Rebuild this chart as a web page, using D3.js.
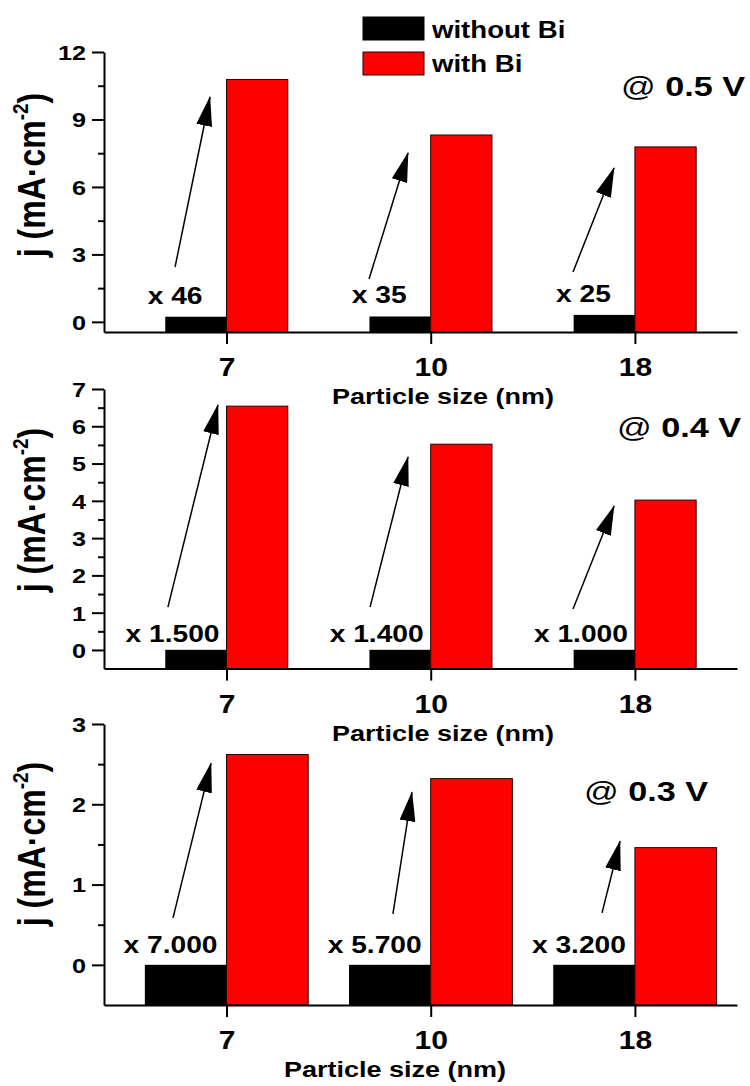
<!DOCTYPE html>
<html>
<head>
<meta charset="utf-8">
<script src="https://cdn.jsdelivr.net/npm/d3@7"></script>
<style>
  body { margin: 0; background: #fff; }
  svg { display: block; }
</style>
</head>
<body>
<div id="chart-area"></div>
<script>
// ---- data ----
var sizes = ["7", "10", "18"];
var seriesNames = ["without Bi", "with Bi"];
var voltages = ["@ 0.5 V", "@ 0.4 V", "@ 0.3 V"];

var withoutBi05 = [0.23, 0.24, 0.31];
var withBi05 = [10.78, 8.31, 7.78];
var ratio05 = ["x 46", "x 35", "x 25"];

var withoutBi04 = [0.004, 0.004, 0.004];
var withBi04 = [6.54, 5.52, 4.02];
var ratio04 = ["x 1.500", "x 1.400", "x 1.000"];

var withoutBi03 = [0.0004, 0.0004, 0.0005];
var withBi03 = [2.62, 2.32, 1.46];
var ratio03 = ["x 7.000", "x 5.700", "x 3.200"];

var yTicks05 = [0, 3, 6, 9, 12];
var yMinor05 = [1.5, 4.5, 7.5, 10.5];
var yTicks04 = [0, 1, 2, 3, 4, 5, 6, 7];
var yMinor04 = [0.5, 1.5, 2.5, 3.5, 4.5, 5.5, 6.5];
var yTicks03 = [0, 1, 2, 3];
var yMinor03 = [0.5, 1.5, 2.5];

// arrows as [category pos start, value start, category pos end, value end]
var arrows05 = [[-0.252, 2.44, -0.081, 10.0], [0.698, 1.91, 0.889, 7.51], [1.697, 2.22, 1.898, 6.84]];
var arrows04 = [[-0.287, 1.15, -0.042, 6.57], [0.703, 1.15, 0.889, 5.18], [1.697, 1.10, 1.898, 3.86]];
var arrows03 = [[-0.262, 0.585, -0.076, 2.51], [0.815, 0.635, 0.908, 2.15], [1.839, 0.647, 1.927, 1.54]];

// ---- layout ----
var FONT = "'Liberation Sans', Arial, Helvetica, sans-serif";
var SX = 1.2; // the original figure is stretched horizontally

var panels = [
    { without: withoutBi05, withBi: withBi05, ratio: ratio05, ticks: yTicks05, minor: yMinor05, arrows: arrows05,
      volt: voltages[0], yDomain: [-0.45, 12], yRange: [332, 52], barW: 0.3, labelOff: 24, labelGap: 13,
      titleX: 443, voltX: 745, voltY: 96, yTitleY: 175 },
    { without: withoutBi04, withBi: withBi04, ratio: ratio04, ticks: yTicks04, minor: yMinor04, arrows: arrows04,
      volt: voltages[1], yDomain: [-0.5, 7], yRange: [668.6, 389], barW: 0.3, labelOff: 7, labelGap: 8,
      titleX: 443, voltX: 741, voltY: 437, yTitleY: 510 },
    { without: withoutBi03, withBi: withBi03, ratio: ratio03, ticks: yTicks03, minor: yMinor03, arrows: arrows03,
      volt: voltages[2], yDomain: [-0.5, 3], yRange: [1005, 724], barW: 0.4, labelOff: 9, labelGap: 12,
      titleX: 395, voltX: 708, voltY: 801, yTitleY: 844 }
];

var svg = d3.select("#chart-area").append("svg")
    .attr("width", 750)
    .attr("height", 1086)
    .style("font-family", FONT);

svg.append("defs").append("marker")
    .attr("id", "head")
    .attr("viewBox", "0 0 30 16")
    .attr("refX", 29)
    .attr("refY", 8)
    .attr("markerWidth", 30)
    .attr("markerHeight", 16)
    .attr("markerUnits", "userSpaceOnUse")
    .attr("orient", "auto")
    .append("path")
    .attr("d", "M0,0 L30,8 L0,16 Z")
    .attr("fill", "#000");

function stretched(sel, x, y, rot) {
    return sel.attr("transform", "translate(" + x + "," + y + ") scale(" + SX + ",1)" + (rot ? " rotate(" + rot + ")" : ""));
}

panels.forEach(function (p) {
    var x = d3.scaleLinear().domain([-0.6, 2.5]).range([104, 737]);
    var y = d3.scaleLinear().domain(p.yDomain).range(p.yRange);
    var base = y(p.yDomain[0]);
    var bw = x(p.barW) - x(0);
    var g = svg.append("g");

    // bars
    g.selectAll(".bar-without").data(p.without).enter().append("rect")
        .attr("x", function (d, i) { return x(i - p.barW); })
        .attr("y", function (d) { return y(d); })
        .attr("width", bw)
        .attr("height", function (d) { return base - y(d); })
        .attr("fill", "#000");

    g.selectAll(".bar-with").data(p.withBi).enter().append("rect")
        .attr("x", function (d, i) { return x(i); })
        .attr("y", function (d) { return y(d); })
        .attr("width", bw)
        .attr("height", function (d) { return base - y(d); })
        .attr("fill", "#ff0000")
        .attr("stroke", "#2a0000")
        .attr("stroke-width", 1);

    // y axis
    var yAxis = g.append("g")
        .attr("transform", "translate(104,0)")
        .call(d3.axisLeft(y).tickValues(p.ticks).tickSize(12).tickSizeOuter(0).tickFormat(d3.format("d")));
    var yMinor = g.append("g")
        .attr("transform", "translate(104,0)")
        .call(d3.axisLeft(y).tickValues(p.minor).tickSize(6).tickFormat(""));
    yMinor.select(".domain").remove();

    // x axis
    var xAxis = g.append("g")
        .attr("transform", "translate(0," + base + ")")
        .call(d3.axisBottom(x).tickValues([0, 1, 2]).tickSize(12).tickSizeOuter(0)
            .tickFormat(function (i) { return sizes[i]; }));

    [yAxis, yMinor, xAxis].forEach(function (a) {
        a.selectAll("path, line").attr("stroke", "#000").attr("stroke-width", 2);
        a.attr("font-family", FONT).attr("font-weight", "bold");
    });
    yAxis.attr("font-size", 21);
    yAxis.selectAll("text")
        .attr("x", -18 / SX)
        .attr("dy", "0.35em")
        .attr("fill", "#000")
        .attr("transform", "scale(" + SX + ",1)");
    xAxis.attr("font-size", 25);
    xAxis.selectAll("text")
        .attr("y", 44)
        .attr("dy", 0)
        .attr("fill", "#000")
        .attr("transform", "scale(" + SX + ",1)");

    // axis titles
    stretched(g.append("text"), p.titleX, base + 72)
        .attr("text-anchor", "middle")
        .attr("font-size", 22.5)
        .attr("font-weight", "bold")
        .text("Particle size (nm)");

    var yt = stretched(g.append("text"), 45, p.yTitleY, -90)
        .attr("text-anchor", "middle")
        .attr("font-size", 32)
        .attr("font-weight", "bold");
    yt.append("tspan").text("j (mA\u00b7cm");
    yt.append("tspan").attr("font-size", 19).attr("dy", -14).text("-2");
    yt.append("tspan").attr("dy", 14).text(")");

    // ratio labels
    p.ratio.forEach(function (r, i) {
        stretched(g.append("text"), x(i) - p.labelOff, y(p.without[i]) - p.labelGap)
            .attr("text-anchor", "end")
            .attr("font-size", 23.5)
            .attr("font-weight", "bold")
            .text(r);
    });

    // arrows
    g.selectAll(".arrow").data(p.arrows).enter().append("line")
        .attr("x1", function (d) { return x(d[0]); })
        .attr("y1", function (d) { return y(d[1]); })
        .attr("x2", function (d) { return x(d[2]); })
        .attr("y2", function (d) { return y(d[3]); })
        .attr("stroke", "#000")
        .attr("stroke-width", 1.5)
        .attr("marker-end", "url(#head)");

    // voltage tag
    var vt = stretched(g.append("text"), p.voltX, p.voltY)
        .attr("text-anchor", "end")
        .attr("font-size", 28.5)
        .attr("font-weight", "bold");
    vt.append("tspan").attr("font-weight", "normal").text(p.volt.slice(0, 1));
    vt.append("tspan").text(p.volt.slice(1));
});

// legend
var legendColors = ["#000", "#ff0000"];
var legend = svg.append("g");
seriesNames.forEach(function (name, i) {
    legend.append("rect")
        .attr("x", 363)
        .attr("y", 17 + i * 35)
        .attr("width", 61)
        .attr("height", 23)
        .attr("fill", legendColors[i])
        .attr("stroke", i ? "#2a0000" : "#000")
        .attr("stroke-width", 1);
    stretched(legend.append("text"), 432, 38 + i * 34)
        .attr("font-size", 23)
        .attr("font-weight", "bold")
        .text(name);
});
</script>
</body>
</html>
